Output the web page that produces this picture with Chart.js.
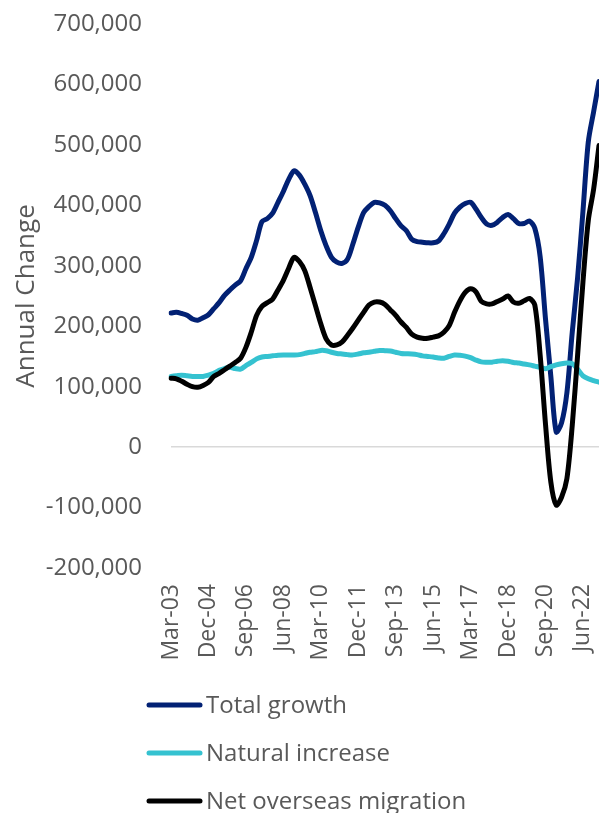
<!DOCTYPE html>
<html>
<head>
    <title>Annual Change in Population</title>
    <script src="https://cdn.jsdelivr.net/npm/chart.js"></script>
    <style>
        html, body { margin: 0; padding: 0; background: #fff; overflow: hidden; }
        #wrap { width: 599px; height: 813px; position: relative; }
    </style>
</head>
<body>
    <div id="wrap"><canvas id="popChart"></canvas></div>

    <script>
        // quarterly, Mar-03 .. Mar-23
        const months = ['Mar', 'Jun', 'Sep', 'Dec'];
        const quarters = [];
        for (let y = 2003; y <= 2023; y++) {
            for (const m of months) {
                if (y === 2023 && m !== 'Mar') break;
                quarters.push(m + '-' + String(y).slice(2));
            }
        }

        const totalGrowth = [
            222000, 223000, 221000, 218000, 212000, 210000, 214000, 219000, 229000, 239000,
            251000, 260000, 268000, 275000, 295000, 314000, 342000, 373000, 378000, 387000,
            405000, 423000, 443000, 457000, 450000, 435000, 416000, 388000, 358000, 333000,
            314000, 306000, 304000, 311000, 336000, 364000, 388000, 398000, 405000, 404000,
            400000, 391000, 378000, 366000, 358000, 344000, 340000, 339000, 338000, 338000,
            341000, 353000, 369000, 387000, 397000, 403000, 405000, 394000, 380000, 369000,
            367000, 372000, 380000, 385000, 378000, 370000, 370000, 374000, 362000, 315000,
            212000, 117000, 25000, 40000, 90000, 190000, 280000, 390000, 505000, 555000,
            605000
        ];
        const naturalIncrease = [
            117000, 118000, 119000, 118000, 117000, 117000, 117000, 119000, 122000, 127000,
            130000, 132000, 130000, 129000, 135000, 140000, 146000, 149000, 150000, 151000,
            152000, 152500, 152500, 152500, 153000, 155000, 157000, 158000, 160000, 159500,
            157000, 155000, 154000, 153000, 152600, 154000, 156000, 157000, 158500, 160000,
            159500, 159000, 157000, 155000, 154500, 154000, 153000, 151000, 150000, 149000,
            147500, 147000, 150000, 152500, 152000, 150500, 148000, 144000, 141000, 140500,
            140500, 142000, 143000, 142000, 140000, 139000, 137500, 136000, 134000, 132000,
            129500, 133000, 136000, 138000, 139000, 138000, 129000, 118000, 113000, 110000,
            107500
        ];
        const netOverseas = [
            114000, 113000, 109000, 104000, 100000, 99000, 102000, 107000, 117000, 122000,
            128000, 134000, 140000, 147000, 165000, 190000, 218000, 233000, 239000, 245000,
            260000, 276000, 296000, 314000, 307000, 292000, 264000, 234000, 204000, 179000,
            169000, 169000, 174000, 185000, 197000, 210000, 223000, 235000, 240000, 240000,
            236000, 227000, 218000, 207000, 198000, 187000, 182000, 180000, 180000, 182000,
            184000, 190000, 201000, 223000, 242000, 256000, 262000, 257000, 241000, 237000,
            237000, 241000, 245000, 250000, 240000, 238000, 242000, 246000, 235000, 152000,
            38000, -58000, -96000, -83000, -52000, 36000, 152000, 273000, 375000, 427000,
            499000
        ];

        const yTicks = [-200000, 700000, 100000]; // min, max, step

        const textGrey = '#595959';
        Chart.defaults.font.family = '"Open Sans", sans-serif';
        Chart.defaults.color = textGrey;

        // stacked legend rows under the axis labels
        const legendRows = {
            id: 'legendRows',
            afterDraw(chart) {
                const c = chart.ctx;
                chart.data.datasets.forEach((ds, k) => {
                    const y = 705 + k * 48;
                    c.save();
                    c.strokeStyle = ds.borderColor;
                    c.lineWidth = 5;
                    c.lineCap = 'round';
                    c.beginPath();
                    c.moveTo(149, y);
                    c.lineTo(200, y);
                    c.stroke();
                    c.fillStyle = textGrey;
                    c.font = '24px "Open Sans"';
                    c.textBaseline = 'alphabetic';
                    c.fillText(ds.label, 206, y + 8);
                    c.restore();
                });
            }
        };

        const ctx = document.getElementById('popChart').getContext('2d');
        const popChart = new Chart(ctx, {
            type: 'line',
            data: {
                labels: quarters,
                datasets: [
                    { label: 'Total growth', data: totalGrowth, borderColor: '#022174', order: 2 },
                    { label: 'Natural increase', data: naturalIncrease, borderColor: '#35c2d0', order: 1 },
                    { label: 'Net overseas migration', data: netOverseas, borderColor: '#000000', order: 0 }
                ]
            },
            options: {
                responsive: true,
                maintainAspectRatio: false,
                animation: false,
                layout: { padding: { top: 24, right: 0, bottom: 0, left: 0 } },
                elements: {
                    point: { radius: 0 },
                    line: { borderWidth: 5, tension: 0.3, fill: false, borderCapStyle: 'round', borderJoinStyle: 'round' }
                },
                plugins: {
                    legend: { display: false },
                    tooltip: { enabled: false }
                },
                scales: {
                    x: {
                        grid: { display: false },
                        border: { display: false },
                        afterFit: (axis) => {
                            axis.height = 245;
                            axis.paddingLeft = 0;
                            axis.paddingRight = 0;
                        },
                        ticks: {
                            autoSkip: false,
                            minRotation: 90,
                            maxRotation: 90,
                            padding: 8,
                            font: { size: 23 },
                            callback: (val, i) => (i % 7 === 0 ? quarters[i] : '')
                        }
                    },
                    y: {
                        min: yTicks[0],
                        max: yTicks[1],
                        afterFit: (axis) => {
                            axis.width = 171;
                            axis.paddingTop = 0;
                            axis.paddingBottom = 0;
                        },
                        border: { display: false },
                        grid: {
                            drawTicks: false,
                            lineWidth: 1.5,
                            color: (c) => (c.tick && c.tick.value === 0 ? '#d9d9d9' : 'rgba(0,0,0,0)')
                        },
                        ticks: {
                            stepSize: yTicks[2],
                            padding: 29,
                            font: { size: 24 },
                            callback: (v) => v.toLocaleString('en-US')
                        },
                        title: {
                            display: true,
                            text: 'Annual Change',
                            font: { size: 26 },
                            padding: { top: 11, bottom: 0 }
                        }
                    }
                }
            },
            plugins: [legendRows]
        });
    </script>
</body>
</html>
